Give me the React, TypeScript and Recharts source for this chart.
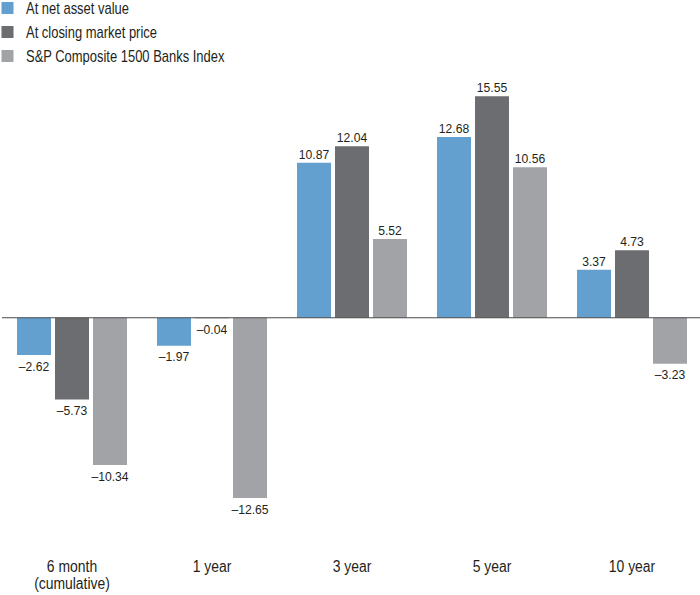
import React from 'react';
import { BarChart, Bar, XAxis, YAxis, ReferenceLine, LabelList } from 'recharts';

const categories = ['6 month|(cumulative)', '1 year', '3 year', '5 year', '10 year'];
const netAssetValue = [-2.62, -1.97, 10.87, 12.68, 3.37];
const closingMarketPrice = [-5.73, -0.04, 12.04, 15.55, 4.73];
const banksIndex = [-10.34, -12.65, 5.52, 10.56, -3.23];

const seriesNames = ['At net asset value', 'At closing market price', 'S&P Composite 1500 Banks Index'];
const seriesColors = ['#63a0cf', '#6c6d71', '#a2a3a7'];

// no narrow face installed, so squeeze Liberation Sans horizontally
const FONT = "'Liberation Sans', Arial, sans-serif";
const TEXT_COLOR = '#231f20';

const data = categories.map((c, i) => ({
  name: c,
  nav: netAssetValue[i],
  market: closingMarketPrice[i],
  index: banksIndex[i],
}));

// en dash for negatives, like the printed chart
const fmt = (v: number) => (v < 0 ? `\u2013${Math.abs(v).toFixed(2)}` : v.toFixed(2));

const ValueLabel = (props: any) => {
  const { x, y, width, height, value } = props;
  const top = Math.min(y, y + height);
  const bottom = Math.max(y, y + height);
  const cx = x + width / 2;
  const ty = value < 0 ? bottom + 15.5 : top - 4;
  return (
    <text
      transform={`translate(${cx},${ty}) scale(0.9,1)`}
      textAnchor="middle"
      fontSize={13.5}
      fontFamily={FONT}
      fill={TEXT_COLOR}
    >
      {fmt(value)}
    </text>
  );
};

const CategoryTick = (props: any) => {
  const { x, y, payload } = props;
  const lines = String(payload.value).split('|');
  return (
    <text
      transform={`translate(${x},${y}) scale(0.87,1)`}
      textAnchor="middle"
      fontSize={16}
      fontFamily={FONT}
      fill={TEXT_COLOR}
    >
      {lines.map((l, i) => (
        <tspan key={i} x={0} dy={i === 0 ? 54.5 : 17}>
          {l}
        </tspan>
      ))}
    </text>
  );
};

const LegendBox = () => (
  <svg width={260} height={66} style={{ position: 'absolute', left: 0, top: 0 }}>
    {seriesNames.map((n, i) => (
      <g key={n}>
        <rect x={1.5} y={2 + i * 24} width={12} height={12} fill={seriesColors[i]} />
        <text
          transform={`translate(26,${13.5 + i * 24}) scale(0.81,1)`}
          fontSize={16}
          fontFamily={FONT}
          fill={TEXT_COLOR}
        >
          {n}
        </text>
      </g>
    ))}
  </svg>
);

const App: React.FC = () => {
  return (
    <div style={{ position: 'absolute', left: 0, top: 0, width: 700, height: 595, overflow: 'hidden', background: '#fff' }}>
      <BarChart
        width={704}
        height={595}
        data={data}
        margin={{ top: 75.5, right: 2, left: 2, bottom: 0 }}
        barSize={34}
        barGap={4}
      >
        <XAxis
          dataKey="name"
          axisLine={false}
          tickLine={false}
          tickSize={0}
          tickMargin={0}
          height={77.75}
          interval={0}
          tick={<CategoryTick />}
        />
        <YAxis hide domain={[-14, 17]} type="number" allowDataOverflow />
        <ReferenceLine y={0} stroke="#4a4a4a" strokeWidth={1.2} />
        <Bar dataKey="nav" fill={seriesColors[0]} isAnimationActive={false}>
          <LabelList dataKey="nav" content={<ValueLabel />} />
        </Bar>
        <Bar dataKey="market" fill={seriesColors[1]} isAnimationActive={false}>
          <LabelList dataKey="market" content={<ValueLabel />} />
        </Bar>
        <Bar dataKey="index" fill={seriesColors[2]} isAnimationActive={false}>
          <LabelList dataKey="index" content={<ValueLabel />} />
        </Bar>
      </BarChart>
      <LegendBox />
    </div>
  );
};

export default App;
